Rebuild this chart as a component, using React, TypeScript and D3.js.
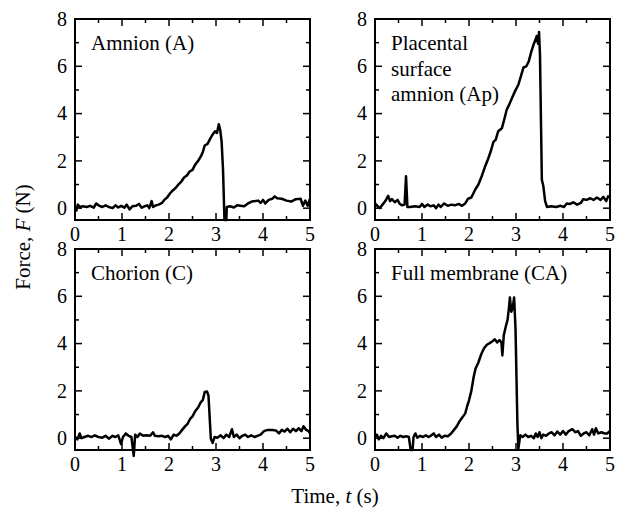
import * as d3 from "d3";

// force traces, [time (s), force (N)]
const amnion: [number, number][] = [
  [0, 0.05], [0.03, -0.1], [0.06, 0.15], [0.1, 0.05], [0.17, 0.08], [0.25, 0.05], [0.32, 0.1],
  [0.4, 0.02], [0.45, 0.2], [0.5, 0.12], [0.58, 0.05], [0.65, 0.12], [0.72, 0.05], [0.8, 0.0],
  [0.86, 0.12], [0.92, 0.03], [0.98, 0.1], [1.05, 0.02], [1.1, 0.15], [1.16, -0.05], [1.22, 0.08],
  [1.3, 0.1], [1.36, 0.18], [1.42, 0.02], [1.48, 0.08], [1.54, 0.12], [1.58, 0.0], [1.63, 0.3],
  [1.66, 0.05], [1.72, 0.12], [1.78, 0.15], [1.85, 0.22], [1.9, 0.35], [1.96, 0.45], [2.02, 0.62],
  [2.08, 0.75], [2.14, 0.85], [2.2, 1.0], [2.26, 1.12], [2.32, 1.3], [2.38, 1.38], [2.44, 1.55],
  [2.5, 1.62], [2.56, 1.85], [2.62, 2.0], [2.68, 2.2], [2.72, 2.38], [2.76, 2.65], [2.82, 2.72],
  [2.88, 2.95], [2.94, 3.15], [2.98, 3.25], [3.02, 3.18], [3.06, 3.55], [3.09, 3.3], [3.12, 2.8],
  [3.15, 1.6], [3.18, -0.5], [3.22, -0.5], [3.23, 0.05], [3.3, 0.08], [3.38, 0.03], [3.45, 0.12],
  [3.52, 0.1], [3.6, 0.08], [3.68, 0.2], [3.76, 0.28], [3.84, 0.3], [3.9, 0.32], [3.95, 0.22],
  [4.0, 0.35], [4.05, 0.2], [4.12, 0.35], [4.2, 0.4], [4.25, 0.5], [4.3, 0.42], [4.4, 0.4],
  [4.5, 0.32], [4.6, 0.28], [4.7, 0.38], [4.8, 0.4], [4.85, 0.1], [4.9, 0.32], [4.95, 0.1], [5.0, 0.4],
];

const placental: [number, number][] = [
  [0, 0.2], [0.05, 0.1], [0.1, 0.0], [0.16, 0.15], [0.22, 0.3], [0.28, 0.52], [0.32, 0.3],
  [0.36, 0.38], [0.42, 0.25], [0.48, 0.35], [0.52, 0.2], [0.57, 0.12], [0.63, 0.15], [0.66, 1.35],
  [0.69, 0.05], [0.75, 0.05], [0.85, 0.08], [0.95, 0.05], [1.0, 0.18], [1.05, 0.05], [1.12, 0.15],
  [1.18, 0.08], [1.25, 0.12], [1.3, 0.0], [1.35, 0.15], [1.4, 0.05], [1.47, 0.2], [1.55, 0.1],
  [1.62, 0.15], [1.7, 0.12], [1.78, 0.18], [1.85, 0.1], [1.92, 0.2], [1.98, 0.4], [2.05, 0.45],
  [2.13, 0.78], [2.2, 1.0], [2.27, 1.35], [2.34, 1.75], [2.41, 2.1], [2.47, 2.45], [2.52, 2.8],
  [2.57, 2.9], [2.62, 3.25], [2.7, 3.38], [2.75, 3.75], [2.8, 4.15], [2.86, 4.4], [2.92, 4.68],
  [2.98, 4.95], [3.05, 5.22], [3.1, 5.55], [3.16, 5.95], [3.22, 6.0], [3.27, 6.2], [3.32, 6.58],
  [3.37, 6.9], [3.41, 7.1], [3.44, 7.28], [3.47, 6.95], [3.49, 7.45], [3.51, 6.5], [3.55, 1.2],
  [3.58, 0.95], [3.62, 0.3], [3.66, 0.05], [3.75, 0.08], [3.85, 0.05], [3.95, 0.1], [4.02, 0.05],
  [4.08, 0.2], [4.15, 0.18], [4.22, 0.25], [4.3, 0.15], [4.38, 0.22], [4.43, 0.38], [4.5, 0.35],
  [4.58, 0.42], [4.65, 0.35], [4.72, 0.45], [4.8, 0.35], [4.86, 0.48], [4.92, 0.3], [4.96, 0.5], [5.0, 0.45],
];

const chorion: [number, number][] = [
  [0, 0.05], [0.05, -0.05], [0.1, 0.2], [0.14, 0.0], [0.2, 0.05], [0.28, 0.1], [0.35, 0.05],
  [0.42, 0.12], [0.5, 0.05], [0.58, 0.02], [0.65, 0.1], [0.72, -0.02], [0.8, 0.1], [0.86, 0.05],
  [0.92, 0.12], [0.98, -0.25], [1.02, 0.05], [1.08, 0.2], [1.14, 0.1], [1.2, 0.05], [1.25, -0.75],
  [1.28, 0.15], [1.33, 0.05], [1.38, 0.2], [1.45, 0.1], [1.52, 0.12], [1.6, 0.1], [1.66, 0.25],
  [1.7, 0.1], [1.78, 0.08], [1.85, 0.1], [1.92, 0.05], [1.98, 0.1], [2.04, -0.05], [2.1, 0.15],
  [2.16, 0.1], [2.22, 0.2], [2.28, 0.35], [2.34, 0.5], [2.4, 0.62], [2.45, 0.82], [2.5, 0.92],
  [2.56, 1.15], [2.62, 1.3], [2.67, 1.5], [2.72, 1.62], [2.76, 1.95], [2.81, 1.97], [2.84, 1.8],
  [2.89, -0.02], [2.93, -0.2], [2.97, 0.05], [3.03, 0.02], [3.1, 0.12], [3.16, 0.0], [3.22, 0.15],
  [3.28, 0.05], [3.34, 0.38], [3.38, 0.05], [3.44, 0.15], [3.5, 0.0], [3.56, 0.1], [3.62, 0.15],
  [3.68, 0.05], [3.75, 0.12], [3.82, 0.05], [3.88, 0.1], [3.95, 0.15], [4.02, 0.3], [4.1, 0.35],
  [4.2, 0.35], [4.28, 0.32], [4.34, 0.2], [4.4, 0.35], [4.46, 0.28], [4.52, 0.4], [4.58, 0.25],
  [4.64, 0.4], [4.7, 0.3], [4.76, 0.42], [4.82, 0.3], [4.86, 0.5], [4.92, 0.35], [4.97, 0.3], [5.0, 0.2],
];

const fullMembrane: [number, number][] = [
  [0, 0.05], [0.04, 0.15], [0.08, -0.05], [0.13, 0.1], [0.18, 0.0], [0.24, 0.2], [0.3, 0.05],
  [0.36, 0.08], [0.42, 0.1], [0.48, 0.02], [0.54, 0.1], [0.6, 0.05], [0.66, 0.08], [0.72, 0.05],
  [0.76, -0.5], [0.8, -0.5], [0.82, 0.05], [0.86, 0.2], [0.9, 0.02], [0.96, 0.1], [1.02, 0.05],
  [1.08, 0.12], [1.14, 0.05], [1.2, 0.12], [1.25, 0.2], [1.3, 0.05], [1.36, 0.15], [1.42, 0.02],
  [1.48, 0.1], [1.55, 0.08], [1.62, 0.2], [1.68, 0.35], [1.74, 0.5], [1.8, 0.72], [1.86, 0.88],
  [1.92, 1.05], [1.96, 1.35], [2.0, 1.6], [2.05, 2.0], [2.1, 2.6], [2.14, 2.95], [2.2, 3.2],
  [2.26, 3.55], [2.32, 3.8], [2.38, 3.95], [2.44, 4.02], [2.5, 4.1], [2.55, 4.18], [2.6, 4.05],
  [2.65, 4.15], [2.69, 4.05], [2.71, 3.5], [2.74, 4.35], [2.78, 4.7], [2.82, 5.0], [2.85, 5.5],
  [2.87, 5.95], [2.9, 5.35], [2.93, 5.5], [2.96, 5.95], [2.99, 4.6], [3.03, 0.6], [3.05, -0.45],
  [3.09, 0.12], [3.14, 0.05], [3.2, 0.15], [3.26, 0.05], [3.32, 0.1], [3.38, 0.0], [3.42, 0.2],
  [3.46, 0.05], [3.5, 0.25], [3.54, 0.0], [3.58, 0.15], [3.64, 0.1], [3.7, 0.2], [3.76, 0.25],
  [3.82, 0.12], [3.88, 0.28], [3.94, 0.15], [4.0, 0.3], [4.06, 0.15], [4.12, 0.3], [4.2, 0.38],
  [4.26, 0.25], [4.32, 0.3], [4.38, 0.1], [4.44, 0.2], [4.5, 0.25], [4.56, 0.12], [4.62, 0.38],
  [4.66, 0.15], [4.7, 0.42], [4.75, 0.2], [4.82, 0.25], [4.88, 0.2], [4.94, 0.2], [5.0, 0.3],
];

const panelLabels = [["Amnion (A)"], ["Placental", "surface", "amnion (Ap)"], ["Chorion (C)"], ["Full membrane (CA)"]];
const xTicks = [0, 1, 2, 3, 4, 5];
const yTicks = [0, 2, 4, 6, 8];

const W = 235;
const H = 201;
const FONT = "'Liberation Serif', 'Times New Roman', serif";

const x = d3.scaleLinear().domain([0, 5]).range([0, W]);
const y = d3.scaleLinear().domain([-0.5, 8]).range([H, 0]);
const line = d3.line<[number, number]>().x(d => x(d[0])).y(d => y(d[1]));

const xMinor = x.ticks(10).filter(v => !xTicks.includes(v));
const yMinor = y.ticks(8).filter(v => v >= 0 && !yTicks.includes(v));

function Panel({ left, top, data, label }: { left: number; top: number; data: [number, number][]; label: string[] }) {
  return (
    <g transform={`translate(${left},${top})`}>
      <path d={line(data) ?? ""} fill="none" stroke="#000" strokeWidth={2.5} strokeLinejoin="round" />
      {xTicks.map(v => (
        <g key={"xt" + v}>
          <line x1={x(v)} x2={x(v)} y1={H} y2={H - 7} stroke="#000" strokeWidth={1.5} />
          <line x1={x(v)} x2={x(v)} y1={0} y2={7} stroke="#000" strokeWidth={1.5} />
          <text x={x(v)} y={H + 21} textAnchor="middle" fontSize={20}>{v}</text>
        </g>
      ))}
      {xMinor.map(v => (
        <g key={"xm" + v}>
          <line x1={x(v)} x2={x(v)} y1={H} y2={H - 4} stroke="#000" strokeWidth={1.5} />
          <line x1={x(v)} x2={x(v)} y1={0} y2={4} stroke="#000" strokeWidth={1.5} />
        </g>
      ))}
      {yTicks.map(v => (
        <g key={"yt" + v}>
          <line x1={0} x2={7} y1={y(v)} y2={y(v)} stroke="#000" strokeWidth={1.5} />
          <line x1={W} x2={W - 7} y1={y(v)} y2={y(v)} stroke="#000" strokeWidth={1.5} />
          <text x={-8} y={y(v)} dy="0.34em" textAnchor="end" fontSize={20}>{v}</text>
        </g>
      ))}
      {yMinor.map(v => (
        <g key={"ym" + v}>
          <line x1={0} x2={4} y1={y(v)} y2={y(v)} stroke="#000" strokeWidth={1.5} />
          <line x1={W} x2={W - 4} y1={y(v)} y2={y(v)} stroke="#000" strokeWidth={1.5} />
        </g>
      ))}
      <rect x={0} y={0} width={W} height={H} fill="none" stroke="#000" strokeWidth={2} />
      {label.map((s, i) => (
        <text key={s} x={16} y={31 + i * 25.7} fontSize={21}>{s}</text>
      ))}
    </g>
  );
}

export default function App() {
  const panels = [
    { left: 75, top: 19, data: amnion },
    { left: 375, top: 19, data: placental },
    { left: 75, top: 249, data: chorion },
    { left: 375, top: 249, data: fullMembrane },
  ];
  return (
    <svg width={620} height={512} style={{ position: "absolute", left: 0, top: 0, fontFamily: FONT }}>
      <rect width={620} height={512} fill="#fff" />
      {panels.map((p, i) => (
        <Panel key={i} left={p.left} top={p.top} data={p.data} label={panelLabels[i]} />
      ))}
      <text x={335} y={503} textAnchor="middle" fontSize={21}>
        Time, <tspan fontStyle="italic">t</tspan> (s)
      </text>
      <text transform="translate(30,237) rotate(-90)" textAnchor="middle" fontSize={21}>
        Force, <tspan fontStyle="italic">F</tspan> (N)
      </text>
    </svg>
  );
}
